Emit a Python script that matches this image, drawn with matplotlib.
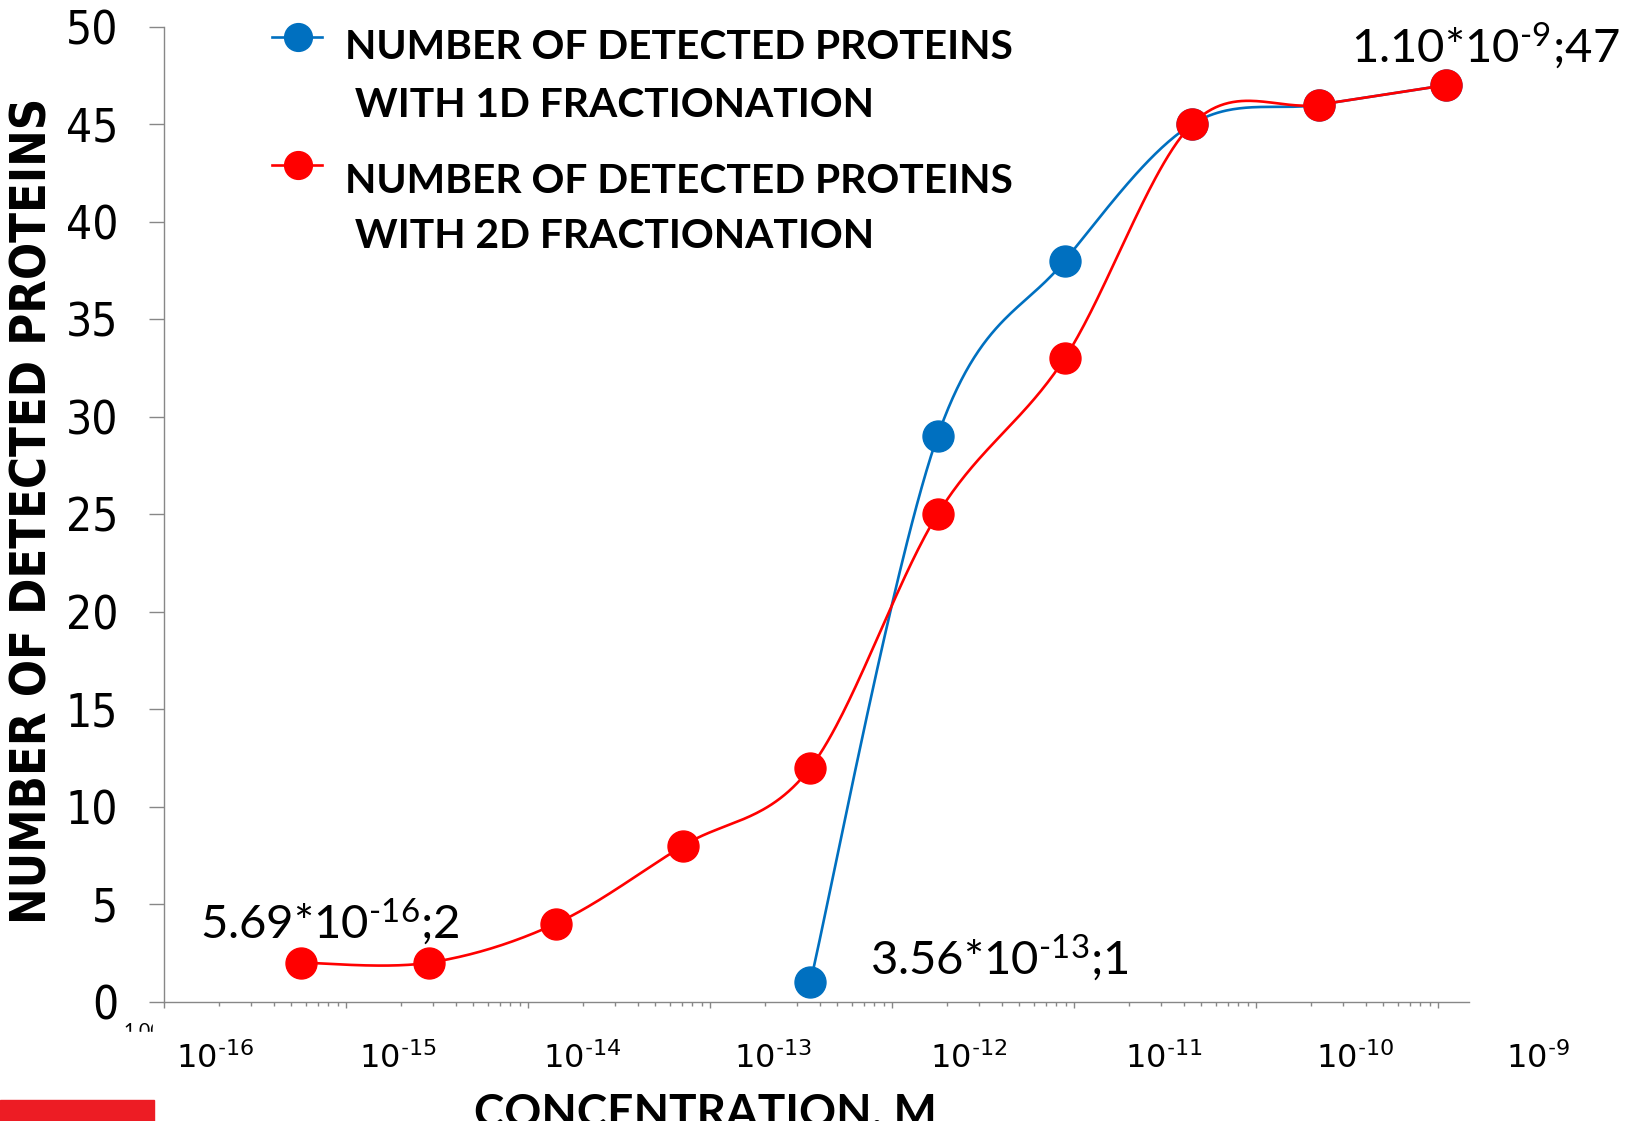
import numpy as np
import matplotlib
matplotlib.use("Agg")
import matplotlib.pyplot as plt
from matplotlib.lines import Line2D
from matplotlib.patches import Rectangle
from matplotlib.ticker import LogLocator, NullFormatter, MultipleLocator

# ---------------- data ----------------
conc_2d = [5.69e-16, 2.85e-15, 1.42e-14, 7.12e-14, 3.56e-13, 1.78e-12, 8.90e-12, 4.45e-11, 2.22e-10, 1.10e-9]
prot_2d = [2, 2, 4, 8, 12, 25, 33, 45, 46, 47]
conc_1d = [3.56e-13, 1.78e-12, 8.90e-12, 4.45e-11, 2.22e-10, 1.10e-9]
prot_1d = [1, 29, 38, 45, 46, 47]

label_1d = ["NUMBER OF DETECTED PROTEINS", " WITH 1D FRACTIONATION"]
label_2d = ["NUMBER OF DETECTED PROTEINS", " WITH 2D FRACTIONATION"]
tick_exponents = [16, 15, 14, 13, 12, 11, 10, 9]
point_labels = [
    (5.69e-16, 2, r"5.69*$10^{\text{-}16}$;2"),
    (3.56e-13, 1, r"3.56*$10^{\text{-}13}$;1"),
    (1.10e-9, 47, r"1.10*$10^{\text{-}9}$;47"),
]

BLUE = "#0070C0"
RED = "#FF0000"
AXC = "#878787"

plt.rcParams["mathtext.fontset"] = "custom"
plt.rcParams["mathtext.rm"] = "Lato"
plt.rcParams["mathtext.it"] = "Lato:italic"
plt.rcParams["mathtext.bf"] = "Lato:bold"
plt.rcParams["mathtext.default"] = "regular"

W, H = 1632, 1121
fig = plt.figure(figsize=(W / 100, H / 100), dpi=100)

def fx(px):
    return px / W

def fy(py):
    return 1 - py / H

x0, x1 = 164, 1469
y0, y1 = 26.7, 1001.7
ax = fig.add_axes([fx(x0), fy(y1), (x1 - x0) / W, (y1 - y0) / H])
ax.set_xscale("log")
xmin = 1e-16
decade_px = 182.0
xmax = 10 ** (-16 + (x1 - x0) / decade_px)
ax.set_xlim(xmin, xmax)
ax.set_ylim(0, 50)

for s in ["top", "right"]:
    ax.spines[s].set_visible(False)
for s in ["left", "bottom"]:
    ax.spines[s].set_color(AXC)
    ax.spines[s].set_linewidth(1.0)

ax.yaxis.set_major_locator(MultipleLocator(5))
ax.tick_params(axis="y", which="major", direction="out", length=10.8, width=1.0,
               color=AXC, pad=22, labelsize=33)
for t in ax.get_yticklabels():
    t.set_fontfamily("DejaVu Sans")
    t.set_fontstretch("condensed")

ax.xaxis.set_major_locator(LogLocator(base=10, numticks=20))
ax.xaxis.set_minor_locator(LogLocator(base=10, subs=np.arange(2, 10), numticks=200))
ax.xaxis.set_major_formatter(NullFormatter())
ax.xaxis.set_minor_formatter(NullFormatter())
ax.tick_params(axis="x", which="major", direction="out", length=4.3, width=1.0, color=AXC)
ax.tick_params(axis="x", which="minor", direction="out", length=2.9, width=1.0, color=AXC)

# smooth curve (Excel-like) computed in display-proportional space
sx = decade_px
sy = (y1 - y0) / 50.0

def smooth(xs, ys, n=60):
    P = np.column_stack([np.log10(xs) * sx, np.asarray(ys, float) * sy])
    m = len(P)
    out = []
    t = np.linspace(0, 1, n)[:, None]
    for i in range(m - 1):
        p0 = P[i - 1] if i > 0 else P[i]
        p1, p2 = P[i], P[i + 1]
        p3 = P[i + 2] if i + 2 < m else P[i + 1]
        c1 = p1 + (p2 - p0) / 6
        c2 = p2 - (p3 - p1) / 6
        seg = (1 - t) ** 3 * p1 + 3 * (1 - t) ** 2 * t * c1 + 3 * (1 - t) * t ** 2 * c2 + t ** 3 * p2
        out.append(seg if i == 0 else seg[1:])
    out = np.vstack(out)
    return 10 ** (out[:, 0] / sx), out[:, 1] / sy

bx, by = smooth(conc_1d, prot_1d)
rx, ry = smooth(conc_2d, prot_2d)
ax.plot(bx, by, color=BLUE, lw=1.9, zorder=3, clip_on=False)
ax.plot(conc_1d, prot_1d, "o", color=BLUE, ms=22.3, zorder=4, clip_on=False)
ax.plot(rx, ry, color=RED, lw=1.9, zorder=5, clip_on=False)
ax.plot(conc_2d, prot_2d, "o", color=RED, ms=22.3, zorder=6, clip_on=False)

# data labels
offsets = [(-101, 24), (60, 7), (-95, 22)]
for (cx, cy, txt), (dx, dy) in zip(point_labels, offsets):
    ax.annotate(txt, xy=(cx, cy), xytext=(dx, dy), textcoords="offset pixels",
                ha="left", va="baseline", fontsize=34, family="Lato", color="black",
                annotation_clip=False, zorder=10)

# y label
fig.text(fx(33), fy(511), "NUMBER OF DETECTED PROTEINS", rotation=90, ha="center", va="center",
         fontsize=35, fontweight="bold", family="DejaVu Sans", fontstretch="condensed")

# manual legend
for (col, yc, lines, bases) in [(BLUE, 37, label_1d, (59, 117)), (RED, 165, label_2d, (193, 248))]:
    fig.add_artist(Line2D([fx(272), fx(298), fx(322)], [fy(yc)] * 3, transform=fig.transFigure,
                          color=col, lw=1.9, marker="o", ms=20, markevery=[1]))
    for ln, b in zip(lines, bases):
        fig.text(fx(345), fy(b), ln, ha="left", va="baseline", fontsize=29.3,
                 fontweight="bold", family="Lato")

# hidden original axis label remnant, then the white box covering it
fig.text(fx(123), fy(1037), "1.00E-16", ha="left", va="baseline", fontsize=14,
         family="Lato", zorder=4)
fig.add_artist(Rectangle((0, 0), 1, fy(1032), transform=fig.transFigure, color="white", zorder=5))
fig.add_artist(Rectangle((fx(153), fy(1032)), 1, (1032 - 1012) / H, transform=fig.transFigure,
                         color="white", zorder=5))

# overlay tick labels
label_left = [176, 359, 543, 734, 930, 1125, 1316, 1506]
for e, xl in zip(tick_exponents, label_left):
    fig.text(fx(xl), fy(1068), r"$10^{\text{-}%d}$" % e, ha="left", va="baseline", fontsize=23, zorder=7)

# x axis title (cut off at the bottom, as in the original slide)
fig.text(fx(474), fy(1126), "CONCENTRATION, M", ha="left", va="baseline", fontsize=33,
         fontweight="bold", family="Lato", zorder=7)

# red bar bottom-left
fig.add_artist(Rectangle((0, 0), fx(154), 21 / H, transform=fig.transFigure, color="#ED1C24", zorder=8))

fig.savefig("out.png", dpi=100)
